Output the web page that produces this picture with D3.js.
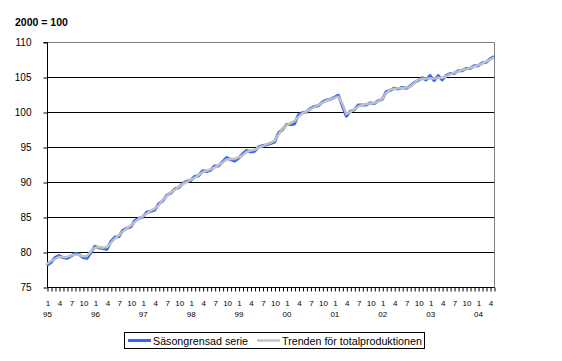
<!DOCTYPE html>
<html><head><meta charset="utf-8">
<script src="https://cdn.jsdelivr.net/npm/d3@7"></script>
<style>
body{margin:0;background:#fff;}
svg{display:block;font-family:"Liberation Sans",Arial,sans-serif;}
</style></head>
<body><svg id="c" width="562" height="361"></svg>
<script>
const startYear = 1995;
const yearLabels = ["95","96","97","98","99","00","01","02","03","04"];
const monthLabelSet = [1,4,7,10];
const yTicks = [75,80,85,90,95,100,105,110];
const seriesNames = ["Säsongrensad serie","Trenden för totalproduktionen"];

const trend = [78.3,78.7,79.0,79.3,79.3,79.3,79.5,79.6,79.6,79.4,79.4,80.1,
80.6,80.7,80.6,80.7,81.3,81.9,82.4,82.9,83.4,83.8,84.3,84.7,
85.1,85.5,85.9,86.2,86.7,87.4,88.0,88.5,88.9,89.3,89.7,90.0,
90.3,90.6,91.0,91.4,91.6,91.8,92.1,92.4,92.8,93.2,93.3,93.3,
93.5,93.8,94.3,94.5,94.6,94.9,95.1,95.4,95.6,95.9,96.8,97.6,
98.1,98.4,98.7,99.3,99.8,100.1,100.4,100.7,101.0,101.3,101.6,101.8,
102.0,102.2,101.2,99.7,100.0,100.4,100.8,101.0,101.1,101.2,101.3,101.5,
101.9,102.7,103.2,103.3,103.4,103.4,103.5,103.6,104.1,104.6,104.7,104.8,
104.8,104.8,104.9,104.9,105.1,105.4,105.6,105.8,106.0,106.1,106.3,106.5,
106.7,106.9,107.2,107.5,107.8];

const sa = [78.1,78.5,79.2,79.5,79.2,79.1,79.4,79.8,79.7,79.2,79.1,79.9,
80.8,80.6,80.5,80.4,81.5,82.1,82.2,83.1,83.4,83.6,84.5,84.8,
85.0,85.7,85.8,86.0,86.9,87.3,88.1,88.4,89.0,89.2,89.8,90.1,
90.2,90.8,90.9,91.6,91.5,91.7,92.3,92.3,92.9,93.5,93.2,93.0,
93.4,94.0,94.5,94.3,94.4,95.0,95.2,95.3,95.5,95.7,97.0,97.5,
98.2,98.2,98.3,99.6,99.9,100.0,100.5,100.8,100.9,101.4,101.7,101.8,
102.1,102.4,100.9,99.4,100.1,100.3,101.0,101.0,101.0,101.3,101.2,101.6,
101.8,102.9,103.1,103.4,103.3,103.5,103.4,103.7,104.2,104.5,104.9,104.6,
105.2,104.5,105.2,104.6,105.2,105.5,105.5,105.9,105.9,106.2,106.2,106.6,
106.6,107.0,107.1,107.6,107.9];

const svg = d3.select("#c");
const L = 47, R = 494, T = 42, B = 287;
const n = trend.length;
const x = d3.scaleLinear().domain([0, n - 1]).range([L, R]);
const y = d3.scaleLinear().domain([75, 110]).range([B, T]);

// gridlines
svg.append("g").selectAll("line").data(yTicks.filter(v => v > 75 && v < 110)).join("line")
  .attr("x1", L).attr("x2", R).attr("y1", d => Math.round(y(d)) + 0.5).attr("y2", d => Math.round(y(d)) + 0.5)
  .attr("stroke", "#000").attr("stroke-width", 1);

// plot border (top & right gray)
svg.append("path").attr("d", `M${L},${T + 0.5}H${R + 0.5}V${B}`)
  .attr("fill", "none").attr("stroke", "#808080").attr("stroke-width", 1);

// y axis
const yAxis = svg.append("g").attr("transform", `translate(${L + 0.5},0.5)`)
  .call(d3.axisLeft(y).tickValues(yTicks).tickSize(4).tickPadding(12).tickFormat(d3.format("d")));
yAxis.select(".domain").attr("stroke", "#000").attr("d", `M-4,${T}H0V${B}`);
yAxis.selectAll(".tick line").attr("stroke", "#000");
yAxis.selectAll("text").attr("font-size", 10).attr("fill", "#000").attr("font-family", "Liberation Sans, Arial");

// x axis
const idx = d3.range(n);
const xAxis = svg.append("g").attr("transform", `translate(0.5,${B + 0.5})`)
  .call(d3.axisBottom(x).tickValues(idx).tickSize(4).tickPadding(9)
    .tickFormat(i => { const m = (i % 12) + 1; return monthLabelSet.includes(m) ? String(m) : ""; }));
xAxis.select(".domain").attr("stroke", "#000").attr("d", `M${L},0H${R}`);
xAxis.selectAll(".tick line").attr("stroke", "#000");
xAxis.selectAll("text").attr("font-size", 8).attr("fill", "#000").attr("font-family", "Liberation Sans, Arial");

// year labels
svg.append("g").selectAll("text").data(yearLabels).join("text")
  .attr("x", (d, k) => x(k * 12) + 0.5).attr("y", 317)
  .attr("text-anchor", "middle").attr("font-size", 8).attr("fill", "#000")
  .text(d => d);

// lines
const line = d3.line().x((d, i) => x(i)).y(d => y(d));
svg.append("path").datum(sa).attr("d", line).attr("fill", "none")
  .attr("stroke", "#3366FF").attr("stroke-width", 3).attr("stroke-linejoin", "round");
svg.append("path").datum(trend).attr("d", line).attr("fill", "none")
  .attr("stroke", "#C0C0C0").attr("stroke-width", 2.5).attr("stroke-linejoin", "round");

// title
svg.append("text").attr("x", 15).attr("y", 26).attr("font-size", 10.5).attr("font-weight", "bold")
  .text("2000 = 100");

// legend
const lg = svg.append("g");
lg.append("rect").attr("x", 124.5).attr("y", 332.5).attr("width", 300).attr("height", 16)
  .attr("fill", "#fff").attr("stroke", "#000").attr("stroke-width", 1);
const legendItems = [
  {name: seriesNames[0], color: "#3366FF", w: 3, x0: 128},
  {name: seriesNames[1], color: "#C0C0C0", w: 2.5, x0: 257}
];
legendItems.forEach(it => {
  lg.append("line").attr("x1", it.x0).attr("x2", it.x0 + 23).attr("y1", 340.5).attr("y2", 340.5)
    .attr("stroke", it.color).attr("stroke-width", it.w);
  lg.append("text").attr("x", it.x0 + 25).attr("y", 344.5).attr("font-size", 10.7).attr("fill", "#000")
    .text(it.name);
});
</script></body></html>
